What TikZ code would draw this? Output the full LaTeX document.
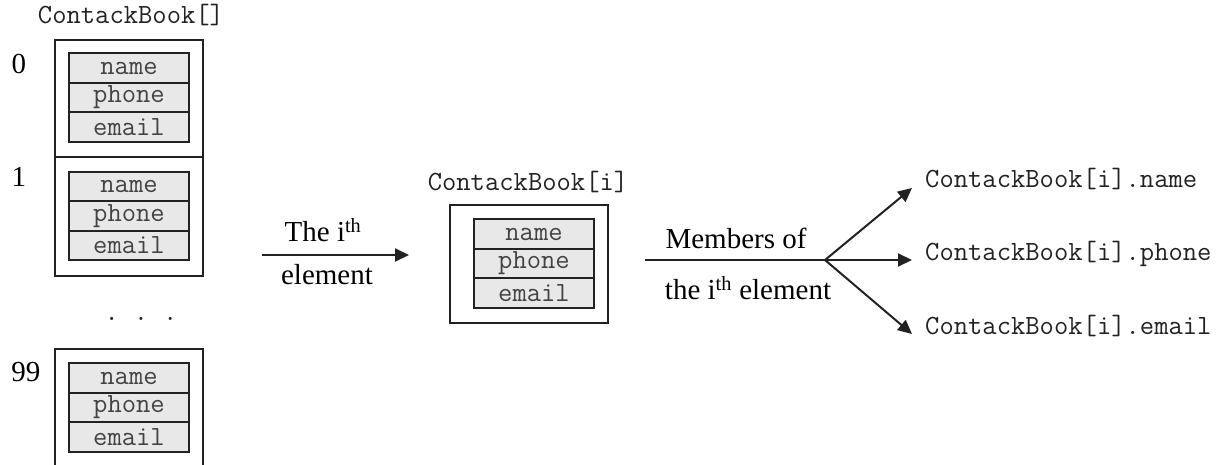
\documentclass[tikz,border=0pt]{standalone}
\usepackage{fontspec}
\setmainfont{Liberation Serif}
\usetikzlibrary{arrows.meta}
\definecolor{ink}{HTML}{222222}
\definecolor{cellfill}{HTML}{E8E8E8}
\tikzset{
  mono/.style={font=\fontsize{27.8}{31}\selectfont\ttfamily, text=ink},
  serif/.style={font=\fontsize{29}{33}\selectfont, text=black},
  outerbox/.style={draw=ink, line width=2pt, minimum width=148pt, inner sep=0pt},
  cell/.style={draw=ink, fill=cellfill, line width=2pt, minimum width=120pt,
    minimum height=29.5pt, inner sep=0pt, mono, text=ink!85},
  conn/.style={draw=ink, line width=2pt, -{Triangle[length=14pt,width=13pt]}},
  member/.style={mono, anchor=base west, inner xsep=13pt, inner ysep=0pt},
}
\begin{document}
\begin{tikzpicture}[x=1pt, y=-1pt]
\useasboundingbox (0,0) rectangle (1226,465);

% array of records
\node[mono] (arrname) at (131,15) {ContackBook[]};
\node[outerbox, minimum height=117pt] (e0) at (129,98.5) {};
\node[outerbox, minimum height=119pt] (e1) at (129,216.5) {};
\draw[draw=ink, line width=2pt] (55,465) -- (55,349) -- (203,349) -- (203,465);
\node[serif] (i0) at (19,64) {0};
\node[serif] (i1) at (19,177) {1};
\node[serif] (i99) at (26,372) {99};
\node[mono, anchor=base] (dots) at (141,320) {.\kern15pt.\kern15pt.};

% record 0
\node[cell] (n0) at (129,68) {name};
\node[cell] (p0) at (129,97.5) {phone};
\node[cell] (m0) at (129,127) {email};
% record 1
\node[cell] (n1) at (129,186.5) {name};
\node[cell] (p1) at (129,216) {phone};
\node[cell] (m1) at (129,245.5) {email};
% record 99
\node[cell] (n99) at (129,378) {name};
\node[cell] (p99) at (129,407.5) {phone};
\node[cell] (m99) at (129,437) {email};

% selecting the i-th element
\coordinate (s1) at (262,255);
\coordinate (t1) at (409,255);
\draw[conn] (s1) -- (t1);
\node[serif] (lab1a) at (323,230) {The i\textsuperscript{th}};
\node[serif] (lab1b) at (327,275) {element};

% the i-th record
\node[mono] (elname) at (528,182) {ContackBook[i]};
\node[outerbox, minimum width=158pt, minimum height=118pt] (ei) at (529,264) {};
\node[cell] (ni) at (534,234) {name};
\node[cell] (pi) at (534,263.5) {phone};
\node[cell] (mi) at (534,293) {email};

% member access
\coordinate (s2) at (645,260);
\coordinate (br) at (825,260);
\draw[draw=ink, line width=2pt] (s2) -- (br);
\node[serif] (lab2a) at (736,238) {Members of};
\node[serif] (lab2b) at (748,288) {the i\textsuperscript{th} element};

\node[member] (rn) at (912,188) {ContackBook[i].name};
\node[member] (rp) at (912,260) {ContackBook[i].phone};
\node[member] (re) at (912,334) {ContackBook[i].email};
\draw[conn] (br) -- (rn.base west);
\draw[conn] (br) -- (rp.base west);
\draw[conn] (br) -- (re.base west);
\end{tikzpicture}
\end{document}
